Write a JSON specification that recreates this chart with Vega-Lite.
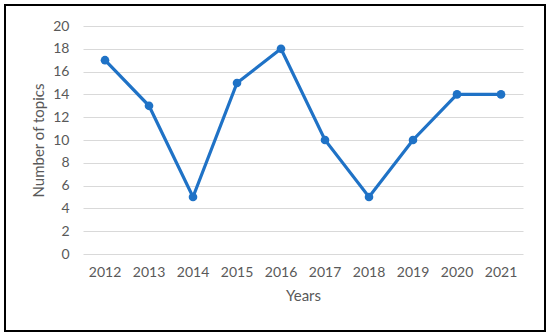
{
  "$schema": "https://vega.github.io/schema/vega-lite/v6.json",
  "width": 540,
  "height": 326,
  "padding": {"left": 5, "top": 5, "right": 5, "bottom": 5},
  "autosize": {"type": "none"},
  "background": "white",
  "config": {
    "view": {"stroke": "black", "strokeWidth": 2},
    "font": "Lato",
    "axis": {
      "labelFont": "Lato",
      "titleFont": "Lato",
      "labelColor": "#595959",
      "titleColor": "#595959",
      "labelFontSize": 14,
      "titleFontSize": 15,
      "titleFontWeight": "normal",
      "domain": false,
      "ticks": false,
      "gridColor": "#d9d9d9",
      "gridWidth": 1
    }
  },
  "data": {
    "values": [
      {"year": "2012", "topics": 17},
      {"year": "2013", "topics": 13},
      {"year": "2014", "topics": 5},
      {"year": "2015", "topics": 15},
      {"year": "2016", "topics": 18},
      {"year": "2017", "topics": 10},
      {"year": "2018", "topics": 5},
      {"year": "2019", "topics": 10},
      {"year": "2020", "topics": 14},
      {"year": "2021", "topics": 14}
    ]
  },
  "mark": {"type": "line", "color": "#1f72c6", "strokeWidth": 3.2, "point": {"filled": true, "size": 75, "color": "#1f72c6", "opacity": 1}},
  "encoding": {
    "x": {
      "field": "year",
      "type": "ordinal",
      "title": "Years",
      "scale": {"type": "band", "range": [78, 518], "paddingInner": 0, "paddingOuter": 0},
      "axis": {"labelAngle": 0, "offset": -77, "labelPadding": 11, "titlePadding": 9, "grid": false}
    },
    "y": {
      "field": "topics",
      "type": "quantitative",
      "title": "Number of topics",
      "scale": {"domain": [0, 20], "range": [249, 21], "nice": false},
      "axis": {"values": [0, 2, 4, 6, 8, 10, 12, 14, 16, 18, 20], "offset": -78, "labelPadding": 14, "titlePadding": 6, "grid": true}
    }
  }
}
